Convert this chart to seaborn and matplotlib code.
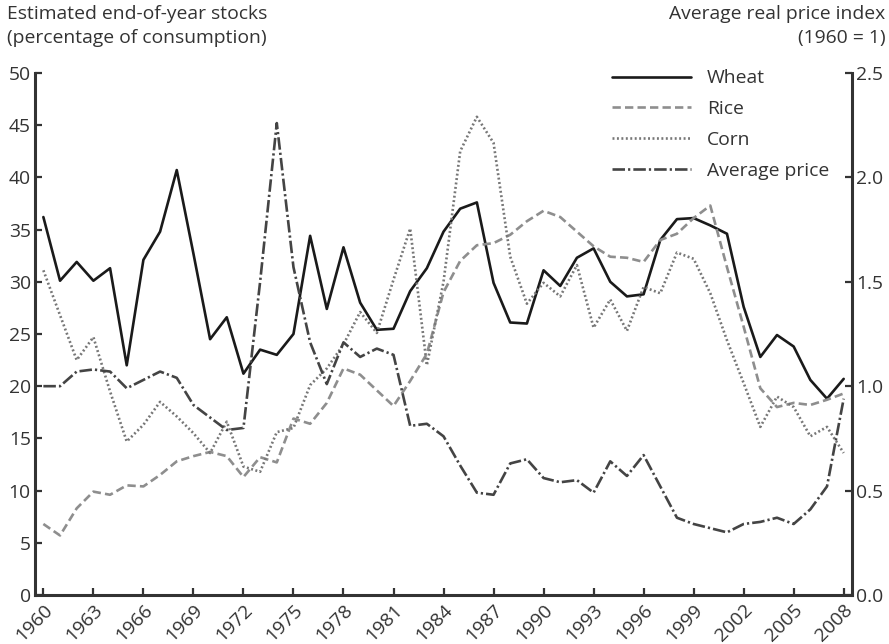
import matplotlib
matplotlib.use('Agg')
import matplotlib.pyplot as plt
import matplotlib.transforms as mtransforms
import seaborn as sns

# Data (stocks in % of consumption, price index 1960 = 1)
years = list(range(1960, 2009))

wheat = [36.2, 30.1, 31.9, 30.1, 31.3, 22.0, 32.1, 34.8, 40.7, 32.7,
         24.5, 26.6, 21.2, 23.5, 23.0, 25.0, 34.4, 27.4, 33.3, 28.0,
         25.4, 25.5, 29.1, 31.3, 34.8, 37.0, 37.6, 29.9, 26.1, 26.0,
         31.1, 29.6, 32.3, 33.2, 30.0, 28.6, 28.8, 34.0, 36.0, 36.1,
         35.4, 34.6, 27.6, 22.8, 24.9, 23.8, 20.6, 18.8, 20.7]

rice = [6.8, 5.7, 8.3, 9.9, 9.6, 10.5, 10.4, 11.5, 12.8, 13.3,
        13.7, 13.3, 11.3, 13.2, 12.7, 16.9, 16.4, 18.4, 21.7, 21.1,
        19.6, 18.1, 20.5, 23.1, 29.0, 32.0, 33.5, 33.7, 34.5, 35.8,
        36.8, 36.2, 34.8, 33.4, 32.4, 32.3, 31.9, 34.0, 34.6, 36.1,
        37.3, 31.4, 25.7, 19.8, 18.0, 18.4, 18.2, 18.7, 19.3]

corn = [31.1, 26.8, 22.5, 24.7, 19.5, 14.7, 16.3, 18.5, 17.1, 15.5,
        13.6, 16.6, 12.3, 11.8, 15.6, 16.0, 20.1, 21.7, 24.0, 27.1,
        25.1, 30.2, 35.1, 22.0, 30.0, 42.5, 45.8, 43.3, 32.4, 27.9,
        29.9, 28.6, 31.6, 25.6, 28.3, 25.3, 29.5, 28.9, 32.8, 32.2,
        28.9, 24.4, 20.3, 16.1, 19.0, 18.0, 15.2, 16.1, 13.6]

avg_price = [1.00, 1.00, 1.07, 1.08, 1.07, 0.99, 1.03, 1.07, 1.04, 0.91,
             0.85, 0.79, 0.80, 1.50, 2.26, 1.57, 1.21, 1.01, 1.21, 1.14,
             1.18, 1.15, 0.81, 0.82, 0.76, 0.62, 0.49, 0.48, 0.63, 0.65,
             0.56, 0.54, 0.55, 0.49, 0.64, 0.57, 0.67, 0.52, 0.37, 0.34,
             0.32, 0.30, 0.34, 0.35, 0.37, 0.34, 0.41, 0.52, 0.94]

x_ticks = list(range(1960, 2009, 3))
left_ticks = list(range(0, 51, 5))
right_ticks = [0.0, 0.5, 1.0, 1.5, 2.0, 2.5]

# Style
sns.set_style('ticks')
plt.rcParams['font.family'] = ['Open Sans', 'DejaVu Sans']
plt.rcParams['lines.scale_dashes'] = False
INK = '#333333'
FS = 13.9

fig = plt.figure(figsize=(8.89, 6.44), dpi=100)
ax = fig.add_axes([0.0394, 0.0761, 0.9190, 0.8106])
ax2 = ax.twinx()

# Stocks on the left axis
sns.lineplot(x=years, y=wheat, ax=ax, color='#1a1a1a', lw=1.9, label='Wheat')
sns.lineplot(x=years, y=rice, ax=ax, color='#8e8e8e', lw=1.9,
             linestyle=(0, (6, 3)), label='Rice')
sns.lineplot(x=years, y=corn, ax=ax, color='#777777', lw=1.9,
             linestyle=(0, (1.4, 1.8)), label='Corn')

# Price index on the right axis
sns.lineplot(x=years, y=avg_price, ax=ax2, color='#444444', lw=1.9,
             linestyle=(0, (9, 2.2, 1.6, 2.2)), label='Average price')

ax.set_xlim(1959.5, 2008.5)
ax.set_ylim(0, 50)
ax2.set_ylim(0, 2.5)

ax.set_xticks(x_ticks)
ax.set_xticklabels([str(y) for y in x_ticks], rotation=45, ha='right',
                   va='top', rotation_mode='anchor')
# nudge the rotated year labels to sit like the original
shift = mtransforms.ScaledTranslation(0.055, -0.08, fig.dpi_scale_trans)
for lbl in ax.get_xticklabels():
    lbl.set_transform(lbl.get_transform() + shift)

ax.set_yticks(left_ticks)
ax.set_yticklabels([str(v) for v in left_ticks])
ax2.set_yticks(right_ticks)
ax2.set_yticklabels([f'{v:.1f}' for v in right_ticks])

for a in (ax, ax2):
    a.tick_params(direction='in', length=5, width=1.6, color=INK,
                  labelcolor=INK, labelsize=FS)
    a.set_xlabel('')
    a.set_ylabel('')
    for s in a.spines.values():
        s.set_linewidth(2.2)
        s.set_color(INK)
ax.tick_params(axis='y', pad=3)
ax.tick_params(axis='x', pad=4)
ax2.tick_params(axis='y', pad=3)

ax.spines['top'].set_visible(False)
ax.spines['right'].set_visible(False)
ax2.spines['top'].set_visible(False)
ax2.spines['left'].set_visible(False)
ax2.spines['bottom'].set_visible(False)

# One legend for both axes
h1, l1 = ax.get_legend_handles_labels()
h2, l2 = ax2.get_legend_handles_labels()
if ax.get_legend() is not None:
    ax.get_legend().remove()
ax2.legend(h1 + h2, l1 + l2, loc='upper left', bbox_to_anchor=(0.706, 1.007),
           borderaxespad=0, borderpad=0, frameon=False, fontsize=FS,
           handlelength=4.1, labelspacing=0.66, handletextpad=0.84,
           labelcolor=INK)

# Axis titles
fig.text(0.008, 0.992, 'Estimated end-of-year stocks\n(percentage of consumption)',
         ha='left', va='top', fontsize=FS, color=INK, linespacing=1.4)
fig.text(0.996, 0.992, 'Average real price index\n(1960 = 1)',
         ha='right', va='top', fontsize=FS, color=INK, linespacing=1.4,
         multialignment='right')

fig.savefig('out.png', dpi=100)
